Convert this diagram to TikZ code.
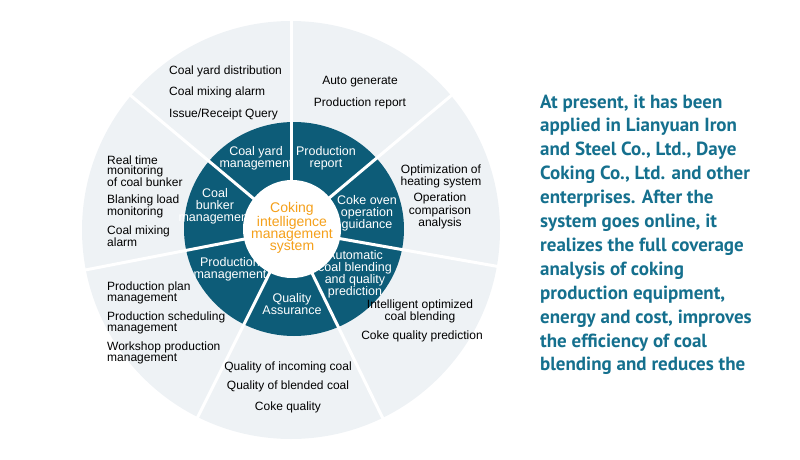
\documentclass[tikz,border=0pt]{standalone}
\usepackage{fontspec}
\setmainfont{Liberation Sans}
\newfontfamily\rightfont{PT Sans}
\definecolor{ringdark}{HTML}{0D5C78}
\definecolor{outerfill}{HTML}{EEF2F5}
\definecolor{orangec}{HTML}{F5A01A}
\definecolor{tealtext}{HTML}{15708E}
\begin{document}
\begin{tikzpicture}[x=1pt,y=1pt,
  outertxt/.style={font=\fontsize{12}{10}\selectfont, text=black, inner sep=0pt},
  lefttxt/.style={outertxt, align=left, anchor=west},
  midtxt/.style={outertxt, align=center},
  innertxt/.style={font=\fontsize{12.5}{12}\selectfont, text=white, inner sep=0pt, align=center},
  centertxt/.style={font=\fontsize{14}{12}\selectfont, text=orangec, inner sep=0pt, align=center},
  righttxt/.style={font=\rightfont\bfseries\fontsize{19}{24}\selectfont, text=tealtext, inner sep=0pt, anchor=base west},
  divider/.style={white, line width=3pt}]
\path[use as bounding box] (0,0) rectangle (800,459);
\coordinate (c) at (291,229);
\coordinate (rc) at (294,230);
\fill[outerfill] (c) circle (209);
\fill[ringdark] (rc) ellipse [x radius=110, y radius=107];
% inner ring labels
\node[innertxt] (yard) at (256,301) {Coal yard\\management};
\node[innertxt] (prep) at (326,301) {Production\\report};
\node[innertxt] (oven) at (367,246) {Coke oven\\operation\\guidance};
\node[innertxt] (blend) at (355,185) {Automatic\\coal blending\\and quality\\prediction};
\node[innertxt] (qa) at (292,155) {Quality\\Assurance};
\node[innertxt] (pman) at (230,190) {Production\\management};
\node[innertxt] (bunk) at (215,253) {Coal\\bunker\\management};
% dividers
\foreach \a [count=\i] in {90,40,-10,-64,-116.5,-169,140}
  \draw[divider] (c) -- ++(\a:216) coordinate (d\i);
\fill[white] (292,230) circle (49);
\node[centertxt] (sys) at (292,231) {Coking\\intelligence\\management\\system};
% outer labels
\node[lefttxt] (o1) at (169,388) {Coal yard distribution};
\node[lefttxt] (o2) at (169,367) {Coal mixing alarm};
\node[lefttxt] (o3) at (169,345) {Issue/Receipt Query};
\node[midtxt] (o4) at (360,377) {Auto generate};
\node[midtxt] (o5) at (360,356) {Production report};
\node[midtxt] (o6) at (441,283) {Optimization of\\heating system};
\node[midtxt] (o7) at (440,248) {Operation\\comparison\\analysis};
\node[midtxt] (o8) at (420,148) {Intelligent optimized\\coal blending};
\node[midtxt] (o9) at (422,123) {Coke quality prediction};
\node[midtxt] (o10) at (288,92) {Quality of incoming coal};
\node[midtxt] (o11) at (288,73) {Quality of blended coal};
\node[midtxt] (o12) at (288,52) {Coke quality};
\node[lefttxt] (o13) at (107,166) {Production plan\\management};
\node[lefttxt] (o14) at (107,136) {Production scheduling\\management};
\node[lefttxt] (o15) at (107,106) {Workshop production\\management};
\node[lefttxt] (o16) at (107,288) {Real time\\monitoring\\of coal bunker};
\node[lefttxt] (o17) at (107,253) {Blanking load\\monitoring};
\node[lefttxt] (o18) at (107,223) {Coal mixing\\alarm};
% right paragraph
\foreach \t [count=\i] in {
  {At present, it has been},
  {applied in Lianyuan Iron},
  {and Steel Co., Ltd., Daye},
  {Coking Co., Ltd. and other},
  {enterprises. After the},
  {system goes online, it},
  {realizes the full coverage},
  {analysis of coking},
  {production equipment,},
  {energy and cost, improves},
  {the efficiency of coal},
  {blending and reduces the}}
  \node[righttxt] (r\i) at (540,{351-(\i-1)*23.9}) {\t};
\end{tikzpicture}
\end{document}
